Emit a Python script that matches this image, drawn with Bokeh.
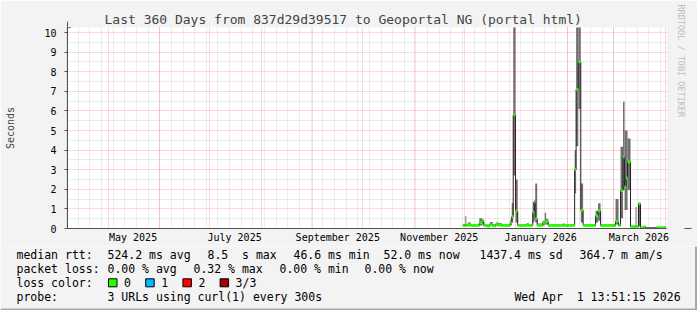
import numpy as np
import pandas as pd
from bokeh.plotting import figure
from bokeh.layouts import column
from bokeh.models import (Range1d, FixedTicker, DatetimeTickFormatter, Grid, Arrow,
                          NormalHead, Title)
from bokeh.core.properties import value
from bokeh.embed import file_html
from bokeh.resources import INLINE

# ---------------- data ----------------
sample_start = [
    "2025-11-30 04:00", "2025-12-01 16:00", "2025-12-02 06:00", "2025-12-03 04:00",
    "2025-12-04 23:00", "2025-12-10 01:30", "2025-12-11 20:40", "2025-12-12 18:00",
    "2025-12-14 13:30", "2025-12-16 09:00", "2025-12-18 04:00", "2025-12-19 23:00",
    "2025-12-21 18:00", "2025-12-23 13:30", "2025-12-28 16:00", "2025-12-29 13:30",
    "2025-12-30 11:00", "2025-12-31 20:00", "2026-01-02 04:00", "2026-01-07 13:30",
    "2026-01-08 18:00", "2026-01-11 04:00", "2026-01-12 01:30", "2026-01-12 16:00",
    "2026-01-13 20:40", "2026-01-17 04:00", "2026-01-18 09:00", "2026-01-19 06:00",
    "2026-01-20 11:00", "2026-01-29 04:00", "2026-01-30 09:00", "2026-02-05 09:00",
    "2026-02-06 06:00", "2026-02-07 13:30", "2026-02-09 01:30", "2026-02-10 11:00",
    "2026-02-17 23:00", "2026-02-19 11:00", "2026-02-20 23:00", "2026-03-01 23:00",
    "2026-03-03 18:00", "2026-03-04 23:00", "2026-03-06 11:00", "2026-03-07 09:00",
    "2026-03-08 06:00", "2026-03-09 04:00", "2026-03-10 23:00", "2026-03-13 23:00",
    "2026-03-14 13:30", "2026-03-15 18:00", "2026-03-16 23:00", "2026-03-18 18:00",
    "2026-03-19 23:00", "2026-03-26 13:30",
]
sample_end = "2026-04-01 06:00"

median_s = [
    0.16, 0.20, 0.16, 0.18, 0.16, 0.30, 0.40, 0.16,
    0.12, 0.20, 0.14, 0.20, 0.18, 0.16, 0.30, 0.60,
    5.80, 0.90, 0.16, 0.18, 0.16, 0.83, 1.35, 0.50,
    0.16, 0.30, 0.33, 0.36, 0.16, 0.16, 0.16, 3.00,
    7.10, 8.50, 0.94, 0.16, 0.64, 0.91, 0.16, 0.36,
    0.16, 1.93, 3.66, 2.13, 2.58, 3.40, 0.10, 0.10,
    0.10, 1.27, 0.05, 0.08, 0.03, 0.05,
]
smoke_lo = [
    0.12, 0.12, 0.12, 0.12, 0.12, 0.15, 0.20, 0.12,
    0.08, 0.12, 0.10, 0.12, 0.12, 0.12, 0.15, 0.30,
    2.70, 0.30, 0.12, 0.12, 0.12, 0.30, 0.40, 0.30,
    0.12, 0.15, 0.20, 0.20, 0.12, 0.12, 0.12, 1.80,
    4.20, 6.10, 0.30, 0.12, 0.30, 0.40, 0.12, 0.20,
    0.12, 0.52, 1.96, 0.94, 0.94, 1.96, 0.08, 0.10,
    0.08, 0.10, 0.04, 0.05, 0.03, 0.04,
]
smoke_hi = [
    0.20, 0.64, 0.20, 0.30, 0.22, 0.52, 0.45, 0.20,
    0.20, 0.33, 0.22, 0.30, 0.28, 0.20, 0.45, 1.30,
    11.0, 2.50, 0.20, 0.27, 0.20, 1.37, 1.45, 2.30,
    0.25, 0.40, 0.81, 0.50, 0.20, 0.26, 0.20, 4.00,
    11.0, 11.0, 2.30, 0.20, 0.90, 1.29, 0.20, 1.50,
    0.20, 4.17, 6.47, 5.00, 5.00, 4.60, 0.14, 1.10,
    0.14, 1.27, 0.07, 0.12, 0.04, 0.07,
]
# loss level of each sample (0 = no loss, -1 = unknown)
loss_level = [0] * 52 + [-1, 0]

y_ticks = [0, 1, 2, 3, 4, 5, 6, 7, 8, 9, 10]
label_months = ["2025-05-01", "2025-07-01", "2025-09-01", "2025-11-01", "2026-01-01", "2026-03-01"]

title_text = "Last 360 Days from 837d29d39517 to Geoportal NG (portal html)"
y_label = "Seconds"
row_heads = ["median rtt:", "packet loss:", "loss color:", "probe:"]
rtt_values = ["524.2", "8.5", "46.6", "52.0", "1437.4", "364.7"]
rtt_units = ["ms avg", "s max", "ms min", "ms now", "ms sd", "m am/s"]
loss_values = ["0.00", "0.32", "0.00", "0.00"]
loss_units = ["% avg", "% max", "% min", "% now"]
loss_names = ["0", "1", "2", "3/3"]
loss_colors = ["#26ff00", "#00b8ff", "#ff0000", "#a00000"]
probe_text = "3 URLs using curl(1) every 300s"
stamp_parts = ["Wed Apr", "1 13:51:15 2026"]
side_text = "RRDTOOL / TOBI OETIKER"

# ---------------- styling ----------------
MONO = "DejaVu Sans Mono"
BG = "#f3f3f3"
AXIS = "#505050"
ARROW = "#7f0000"
SMOKE = "#707070"
MEDIAN = "#202020"
EDGE = "#a8a8a8"
DAY_MS = 86400000.0
PX_DAYS = 0.6          # days per pixel on the time axis (360 days / 600 px)
PX_Y = 19.6            # pixels per second on the value axis
CW = 6.92              # legend character width (px)

t_end = pd.Timestamp("2026-04-01 13:51:15")
t_begin = t_end - pd.Timedelta(days=360)
Y_TOP = 10.26


def ms(t):
    return pd.Timestamp(t).value / 1e6


def px_to_x(px):      # canvas pixel column -> time value of the top chart
    return ms(t_end) + (px - 667) * PX_DAYS * DAY_MS


def py_to_y(py):      # canvas pixel row -> value of the top chart
    return (228.5 - py) / PX_Y


starts = pd.to_datetime(sample_start)
ends = pd.to_datetime(sample_start[1:] + [sample_end])
med = np.array(median_s, dtype=float)
lo = np.array(smoke_lo, dtype=float)
hi = np.array(smoke_hi, dtype=float)
lvl = np.array(loss_level)

p = figure(width=697, height=246, x_axis_type="datetime", output_backend="svg",
           toolbar_location=None,
           x_range=Range1d(ms(t_begin), ms(t_end)), y_range=Range1d(0, Y_TOP),
           min_border_left=67, min_border_right=30, min_border_top=27, min_border_bottom=18)
p.frame_align = False
p.background_fill_color = "white"
p.border_fill_color = BG
p.outline_line_color = None

# smoke
p.quad(left=starts, right=ends, bottom=lo, top=hi, fill_color=SMOKE, line_color=None)
# median line
xs = list(starts) + [ends[-1]]
ys = list(med) + [med[-1]]
p.step(xs, ys, mode="after", line_color=MEDIAN, line_width=1)
# loss-coloured median band
band_half = 0.07
for k, col in enumerate(loss_colors):
    m = lvl == k
    if m.any():
        p.quad(left=starts[m], right=ends[m], bottom=med[m] - band_half, top=med[m] + band_half,
               fill_color=col, line_color=None)

# grids
p.xgrid.visible = False
p.ygrid.visible = False
minor_x = [ms(t) for t in pd.date_range(t_begin.normalize(), t_end, freq="W-SUN")]
major_x = [ms(t) for t in pd.date_range(t_begin.normalize(), t_end, freq="MS")]
minor_y = list(np.arange(0.5, Y_TOP, 1.0))
for dim, ticks, color in [(0, minor_x, "#808080"), (1, minor_y, "#808080"),
                          (0, major_x, "#ff0000"), (1, y_ticks, "#ff0000")]:
    p.add_layout(Grid(dimension=dim, ticker=FixedTicker(ticks=ticks), grid_line_color=color,
                      grid_line_alpha=0.3, grid_line_dash="1 1", grid_line_width=1, level="guide"))

# axes
fmt = "%B %Y"
p.xaxis.ticker = FixedTicker(ticks=[ms(pd.Timestamp(m) + pd.Timedelta(days=15)) for m in label_months])
p.xaxis.formatter = DatetimeTickFormatter(microseconds=fmt, milliseconds=fmt, seconds=fmt, minsec=fmt,
                                          minutes=fmt, hourmin=fmt, hours=fmt, days=fmt,
                                          months=fmt, years=fmt)
p.xaxis.major_tick_line_color = None
p.xaxis.major_tick_out = 0
p.xaxis.major_tick_in = 0
p.xaxis.minor_tick_line_color = None
p.xaxis.major_label_standoff = 3
for ax in (p.xaxis[0], p.yaxis[0]):
    ax.axis_line_color = AXIS
    ax.axis_line_width = 1
    ax.major_label_text_font = MONO
    ax.major_label_text_font_size = "10px"
    ax.major_label_text_color = "black"

p.yaxis.ticker = FixedTicker(ticks=y_ticks)
p.yaxis.minor_tick_line_color = None
p.yaxis.major_tick_out = 3
p.yaxis.major_tick_in = 0
p.yaxis.major_tick_line_color = AXIS
p.yaxis.major_label_standoff = 8
p.yaxis.axis_label = y_label
p.yaxis.axis_label_text_font = MONO
p.yaxis.axis_label_text_font_size = "10px"
p.yaxis.axis_label_text_font_style = "normal"
p.yaxis.axis_label_standoff = 25

# title
p.title.text = title_text
p.title.align = "left"
p.title.offset = 37
p.title.text_font = MONO
p.title.text_font_size = "13px"
p.title.text_font_style = "normal"
p.title.standoff = 2

# side credit (vertical, in the right margin)
p.add_layout(Title(text=side_text, align="left", offset=-23, text_font=MONO,
                   text_font_size="8.5px", text_font_style="normal", text_color="#bdbdbd",
                   vertical_align="bottom", standoff=19), "right")

# axis arrows
p.add_layout(Arrow(end=NormalHead(size=7, fill_color=ARROW, line_color=ARROW, line_width=1),
                   x_start=ms(t_end), y_start=0, x_end=px_to_x(692), y_end=0,
                   line_color=AXIS, line_width=1))
p.add_layout(Arrow(end=NormalHead(size=6, fill_color=ARROW, line_color=ARROW, line_width=1),
                   x_start=ms(t_begin), y_start=Y_TOP, x_end=ms(t_begin), y_end=py_to_y(21.5),
                   line_color=AXIS, line_width=1))
# right edge shade of the top part
p.add_layout(Arrow(end=None, x_start=px_to_x(695.5), y_start=py_to_y(0), x_end=px_to_x(695.5),
                   y_end=py_to_y(247), line_color=EDGE, line_width=2))

# ---------------- legend strip (data units = canvas pixels) ----------------
q = figure(width=697, height=64, output_backend="svg", toolbar_location=None,
           x_range=Range1d(0, 697), y_range=Range1d(64, 0),
           x_axis_location=None, y_axis_location=None, min_border=0)
q.frame_align = False
q.title.visible = False
q.grid.visible = False
q.outline_line_color = None
q.background_fill_color = BG
q.border_fill_color = BG

row_y = [8.3, 22.3, 36.3, 50.0]
FS = "11.5px"
tx, ty, tt = [], [], []
for h, yy in zip(row_heads, row_y):
    tx.append(16); ty.append(yy); tt.append(h)
for v, u, xx in zip(rtt_values, rtt_units, [107, 207, 293, 383, 479, 579]):
    tx += [xx, xx + (len(v) + (2 if u.startswith("s") else 1)) * CW]
    ty += [row_y[0]] * 2
    tt += [v, u]
for v, u, xx in zip(loss_values, loss_units, [107, 193, 279, 364]):
    tx += [xx, xx + (len(v) + 1) * CW]
    ty += [row_y[1]] * 2
    tt += [v, u]
box_x = [108 + 37.2 * i for i in range(len(loss_names))]
for s, bx in zip(loss_names, box_x):
    tx.append(bx + 15.5); ty.append(row_y[2]); tt.append(s)
tx.append(107); ty.append(row_y[3]); tt.append(probe_text)
stamp_x = 680 - 24 * CW
tx += [stamp_x, stamp_x + 9 * CW]
ty += [row_y[3]] * 2
tt += stamp_parts
q.text(x=tx, y=ty, text=tt, text_font=value(MONO), text_font_size=FS,
       text_baseline="middle", text_align="left", text_color="black")
q.quad(left=box_x, right=[b + 8.5 for b in box_x], top=[row_y[2] - 4] * 4,
       bottom=[row_y[2] + 4] * 4, fill_color=loss_colors, line_color="black", line_width=1)
# frame shade of the lower part
q.segment(x0=[0, 695.5], y0=[63, 0], x1=[697, 695.5], y1=[63, 64], line_color=EDGE, line_width=2)

layout = column(p, q, spacing=0)
open("out.html", "w").write(file_html(layout, INLINE))
